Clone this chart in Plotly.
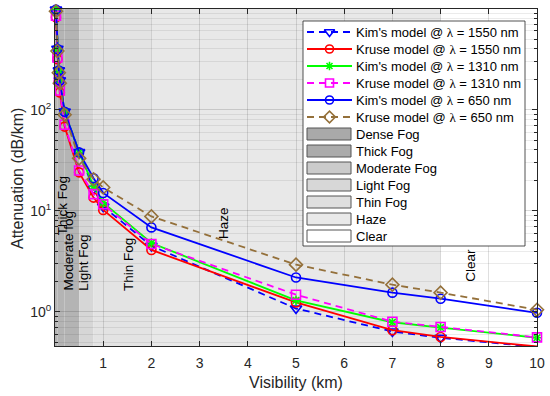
import math
import plotly.graph_objects as go

# ---------------- data ----------------
visibility = [0.02, 0.05, 0.08, 0.1, 0.2, 0.5, 0.8, 1, 2, 5, 7, 8, 10]

kim_1550 = [980, 400, 245, 195, 96, 38, 16.5, 11.0, 4.5, 1.08, 0.64, 0.555, 0.45]
kruse_1550 = [820, 315, 190, 148, 68, 24, 13.5, 10.2, 4.1, 1.24, 0.66, 0.565, 0.455]
kim_1310 = [975, 398, 244, 194, 95.5, 37.8, 17.5, 12.0, 4.8, 1.30, 0.79, 0.70, 0.555]
kruse_1310 = [850, 328, 198, 155, 71, 25, 14.6, 11.6, 4.7, 1.48, 0.80, 0.71, 0.56]
kim_650 = [975, 398, 244, 194, 95.5, 37.8, 21.0, 15.0, 6.85, 2.19, 1.55, 1.35, 0.98]
kruse_650 = [940, 380, 232, 183, 89, 33, 20.5, 17.0, 8.8, 2.93, 1.86, 1.55, 1.05]

series_values = [kim_1550, kruse_1550, kim_1310, kruse_1310, kim_650, kruse_650]
series_names = [
    "Kim's model @ λ = 1550 nm",
    "Kruse model @ λ = 1550 nm",
    "Kim's model @ λ = 1310 nm",
    "Kruse model @ λ = 1310 nm",
    "Kim's model @ λ = 650 nm",
    "Kruse model @ λ = 650 nm",
]

fog_names = ["Dense Fog", "Thick Fog", "Moderate Fog", "Light Fog", "Thin Fog", "Haze", "Clear"]
fog_start = [0, 0.05, 0.2, 0.5, 0.8, 2, 8]
fog_end = [0.05, 0.2, 0.5, 0.8, 2, 8, 10]

region_labels = ["Thick Fog", "Moderate fog", "Light Fog", "Thin Fog", "Haze", "Clear"]
region_label_x = [0.145, 0.285, 0.60, 1.53, 3.51, 8.62]
region_label_y = [5.67, 1.58, 1.58, 1.58, 5.17, 1.94]

x_ticks = [1, 2, 3, 4, 5, 6, 7, 8, 9, 10]
y_ticks = [1, 10, 100]
y_ticktext = ["10<sup>0</sup>", "10<sup>1</sup>", "10<sup>2</sup>"]
y_minor = [m * d for d in (0.1, 1, 10, 100) for m in range(2, 10) if 0.46 <= m * d <= 990]

# ---------------- styles ----------------
series_colors = ["#0000FF", "#FF0000", "#00FF00", "#FF00FF", "#0000FF", "#94703A"]
series_dash = ["7px,5px", "solid", "solid", "7px,5px", "solid", "7px,5px"]
series_symbols = ["triangle-down-open", "circle-open", "asterisk-open", "square-open",
                  "circle-open", "diamond-open"]
series_msize = [10, 9, 8, 9, 9, 10]
fog_plot_colors = ["#B4B4B4", "#B4B4B4", "#B4B4B4", "#D6D6D6", "#E3E3E3", "#E8E8E8", "#FFFFFF"]
fog_legend_colors = ["#A9A9A9", "#ABABAB", "#CBCBCB", "#D7D7D7", "#DFDFDF", "#E9E9E9", "#FFFFFF"]

W, H = 550, 396
ML, MR, MT, MB = 55, 13, 9, 50
AX = "#262626"
FONT = "Liberation Sans, Arial, sans-serif"
LW = 1.8

fig = go.Figure()

# fog region shading
shapes = []
for x0, x1, c in zip(fog_start, fog_end, fog_plot_colors):
    shapes.append(dict(type="rect", xref="x", yref="paper", x0=x0, x1=x1, y0=0, y1=1,
                       fillcolor=c, line=dict(width=0), layer="below"))

# data series
for name, vals, col, dash, sym, ms in zip(series_names, series_values, series_colors,
                                          series_dash, series_symbols, series_msize):
    fig.add_trace(go.Scatter(
        x=visibility, y=vals, name=name, mode="lines+markers",
        line=dict(color=col, width=LW, dash=dash),
        marker=dict(symbol=sym, size=ms, color=col, line=dict(color=col, width=1.6)),
        cliponaxis=False, showlegend=False, xaxis="x", yaxis="y"))

# ---------------- custom legend (pixel-space helper axes) ----------------
LX0, LX1, LY0, LY1 = 303, 525, 21, 246
row_y = [32 + 17 * i for i in range(13)]
shapes.append(dict(type="rect", xref="x2", yref="y2", x0=LX0, x1=LX1, y0=LY0, y1=LY1,
                   fillcolor="white", line=dict(color=AX, width=0.8), layer="below"))

annotations = []
lam = "<span style=\"font-family:'Liberation Serif', serif\">λ</span>"
for i, (name, col, dash, sym, ms) in enumerate(zip(series_names, series_colors, series_dash,
                                                  series_symbols, series_msize)):
    cy = row_y[i]
    fig.add_trace(go.Scatter(x=[307, 352], y=[cy, cy], mode="lines",
                             line=dict(color=col, width=LW, dash=dash),
                             showlegend=False, hoverinfo="skip", xaxis="x2", yaxis="y2"))
    fig.add_trace(go.Scatter(x=[329.5], y=[cy], mode="markers",
                             marker=dict(symbol=sym, size=ms - 1, color=col,
                                         line=dict(color=col, width=1.6)),
                             showlegend=False, hoverinfo="skip", xaxis="x2", yaxis="y2"))
    annotations.append(dict(xref="x2", yref="y2", x=354, y=cy, xanchor="left", yanchor="middle",
                            text=name.replace("λ", lam), showarrow=False,
                            font=dict(family=FONT, size=13, color="#000000")))

for j, (name, c) in enumerate(zip(fog_names, fog_legend_colors)):
    cy = row_y[6 + j]
    shapes.append(dict(type="rect", xref="x2", yref="y2", x0=307, x1=351, y0=cy - 6, y1=cy + 6,
                       fillcolor=c, line=dict(color="#555555", width=1), layer="below"))
    annotations.append(dict(xref="x2", yref="y2", x=354, y=cy, xanchor="left", yanchor="middle",
                            text=name, showarrow=False,
                            font=dict(family=FONT, size=13, color="#000000")))

# region text labels (rotated)
for t, lx, ly in zip(region_labels, region_label_x, region_label_y):
    annotations.append(dict(xref="x", yref="y", x=lx, y=math.log10(ly), text=t, textangle=-90,
                            xanchor="center", yanchor="bottom", showarrow=False, borderpad=0,
                            font=dict(family=FONT, size=13.5, color="#000000")))

# axis titles
annotations.append(dict(xref="paper", yref="paper", x=0.5, y=(H - MB - 383) / (H - MB - MT),
                        text="Visibility (km)", showarrow=False, xanchor="center", yanchor="middle",
                        font=dict(family=FONT, size=16, color=AX)))
annotations.append(dict(xref="paper", yref="paper", x=(17 - ML) / (W - ML - MR),
                        y=(H - MB - 179) / (H - MB - MT), text="Attenuation (dB/km)", textangle=-90,
                        showarrow=False, xanchor="center", yanchor="middle",
                        font=dict(family=FONT, size=16, color=AX)))

fig.update_layout(
    template="none",
    width=W, height=H, margin=dict(l=ML, r=MR, t=MT, b=MB, autoexpand=False),
    paper_bgcolor="white", plot_bgcolor="rgba(0,0,0,0)",
    font=dict(family=FONT, size=14, color=AX),
    showlegend=False, shapes=shapes, annotations=annotations,
    xaxis=dict(range=[0, 10], tickvals=x_ticks, ticks="inside", ticklen=5, tickcolor=AX,
               showline=True, linecolor=AX, linewidth=1, mirror="ticks", automargin=False,
               showgrid=True, gridcolor="rgba(38,38,38,0.15)", gridwidth=1, zeroline=False,
               tickfont=dict(family=FONT, size=14, color=AX), ticklabelstandoff=4),
    yaxis=dict(type="log", range=[math.log10(0.46), math.log10(990)], tickvals=y_ticks,
               ticktext=y_ticktext, ticks="inside", ticklen=5, tickcolor=AX, automargin=False,
               showline=True, linecolor=AX, linewidth=1, mirror="ticks",
               showgrid=True, gridcolor="rgba(38,38,38,0.17)", gridwidth=1, zeroline=False,
               tickfont=dict(family=FONT, size=14, color=AX),
               minor=dict(tickvals=y_minor, ticks="inside", ticklen=3, tickcolor=AX,
                          showgrid=True, gridcolor="rgba(38,38,38,0.09)", gridwidth=1)),
    xaxis2=dict(range=[ML, W - MR], domain=[0, 1], anchor="y2", visible=False, fixedrange=True,
                automargin=False),
    yaxis2=dict(range=[H - MB, MT], domain=[0, 1], anchor="x2", visible=False, fixedrange=True,
                automargin=False),
)

fig.write_html("out.html", config={"displayModeBar": False, "staticPlot": True},
               post_script="document.body.style.margin='0';document.body.style.overflow='hidden';")
